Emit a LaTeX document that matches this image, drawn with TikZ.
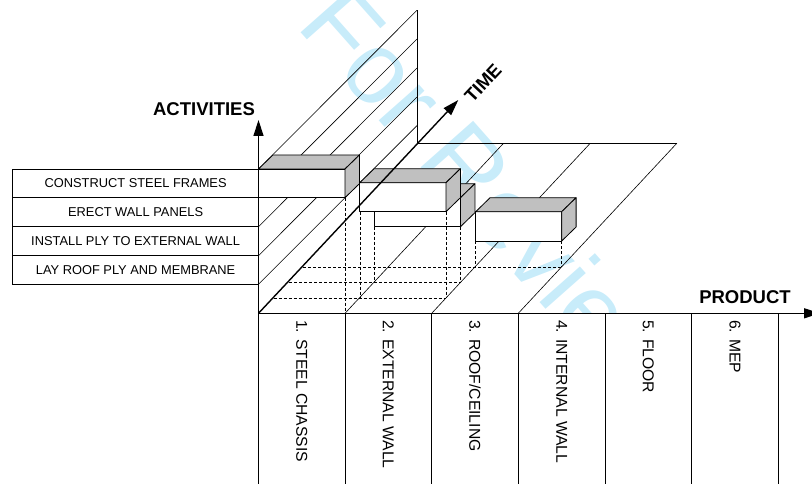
\documentclass[tikz,border=0pt]{standalone}
\usepackage{fontspec}
\setmainfont{Liberation Sans}
\usetikzlibrary{arrows.meta,calc}
\definecolor{topgray}{RGB}{192,192,192}
\definecolor{wmblue}{RGB}{200,236,250}
\newcommand\mycuboid[5]{%
  \coordinate (#1a) at (#2,#3);
  \coordinate (#1b) at (#4,#3);
  \coordinate (#1c) at (#4,#5);
  \coordinate (#1d) at (#2,#5);
  \filldraw[boxedge, fill=white] (#1a) -- (#1b) -- (#1c) -- (#1d) -- cycle;
  \filldraw[boxedge, fill=topgray] (#1a) -- ++(14.4,-14) -- ($(#1b)+(14.4,-14)$) -- (#1b) -- cycle;
  \filldraw[boxedge, fill=topgray] (#1b) -- ++(14.4,-14) -- ($(#1c)+(14.4,-14)$) -- (#1c) -- cycle;
}
\begin{document}
\begin{tikzpicture}[x=1pt,y=-1pt,
  hatch/.style={line width=0.6pt},
  projline/.style={line width=0.6pt, dash pattern=on 3pt off 2pt},
  boxedge/.style={line width=0.8pt, line join=round},
  axisline/.style={line width=1.4pt, -{Triangle[length=16pt,width=10pt]}},
  rowcell/.style={draw, line width=0.7pt, fill=white, minimum width=245.8pt, minimum height=28.8pt, inner sep=0pt, font=\fontsize{12.85}{15}\selectfont},
  collabel/.style={rotate=-90, anchor=west, inner sep=0pt, font=\fontsize{15.7}{18}\selectfont},
  axislabel/.style={inner sep=0pt, font=\fontsize{18.5}{22}\selectfont\bfseries},
  watermark/.style={text=wmblue, inner sep=0pt, font=\fontsize{102}{120}\selectfont}]
\useasboundingbox (0,0) rectangle (812,484);
% watermark
\node[watermark, rotate=-48.5, anchor=base west] (wm) at (295,26) {For Review};
% key points
\coordinate (O) at (258.5,313.3);
\coordinate (B) at (417,143.3);
% wall hatch
\foreach \r in {169,197.7,226.7,255.7,284.3} \draw[hatch] (258.5,\r) -- ++(158.5,-158.7);
\draw[hatch] (417,10.3) -- (B);
% floor
\foreach \x in {345,431.7,518.3} \draw[hatch] (\x,313.3) -- ++(158.5,-170);
\draw[hatch] (B) -- (676.8,143.3);
% box 4
\mycuboid{b4}{475.7}{211.7}{561.7}{241}
\draw[projline] (b4d) -- (475.7,267);
\draw[projline] (b4c) -- (561.7,267);
\draw[projline] (303,267) -- (561.7,267);
% box 3
\mycuboid{b3}{374}{197.7}{460.5}{226.7}
\draw[projline] (b3d) -- (374,282.7);
\draw[projline] (b3c) -- (460.5,282.7);
\draw[projline] (289,282.7) -- (460.5,282.7);
% box 2
\mycuboid{b2}{359.8}{182.7}{446}{211.7}
\draw[projline] (b2d) -- (359.8,298.3);
\draw[projline] (b2c) -- (446,298.3);
\draw[projline] (273.5,298.3) -- (446,298.3);
% box 1
\mycuboid{b1}{258.5}{169}{345}{197.7}
\draw[projline] (b1c) -- (345,313.3);
% activity table
\node[rowcell] (row1) at (135.6,183.35) {CONSTRUCT STEEL FRAMES};
\node[rowcell] (row2) at (135.6,212.2) {ERECT WALL PANELS};
\node[rowcell] (row3) at (135.6,241.1) {INSTALL PLY TO EXTERNAL WALL};
\node[rowcell] (row4) at (135.6,269.9) {LAY ROOF PLY AND MEMBRANE};
% product columns
\fill[white] (258.5,313.3) rectangle (812,490);
\foreach \x in {258.5,345,431.7,518.3,605,691.7,778.3} \draw[line width=0.8pt] (\x,313.3) -- (\x,490);
\node[collabel] (p1) at (301.75,320) {1. STEEL CHASSIS};
\node[collabel] (p2) at (388.35,320) {2. EXTERNAL WALL};
\node[collabel] (p3) at (475,320) {3. ROOF/CEILING};
\node[collabel] (p4) at (561.65,320) {4. INTERNAL WALL};
\node[collabel] (p5) at (648.35,320) {5. FLOOR};
\node[collabel] (p6) at (735,320) {6. MEP};
% axes
\draw[axisline] (O) -- (258.5,120);
\draw[axisline] (O) -- (820,313.3);
\draw[axisline] (O) -- (458.3,100);
\node[axislabel] (act) at (204,109.5) {ACTIVITIES};
\node[axislabel] (prod) at (745,297) {PRODUCT};
\node[axislabel, rotate=47] (time) at (483,83) {TIME};
\end{tikzpicture}
\end{document}
